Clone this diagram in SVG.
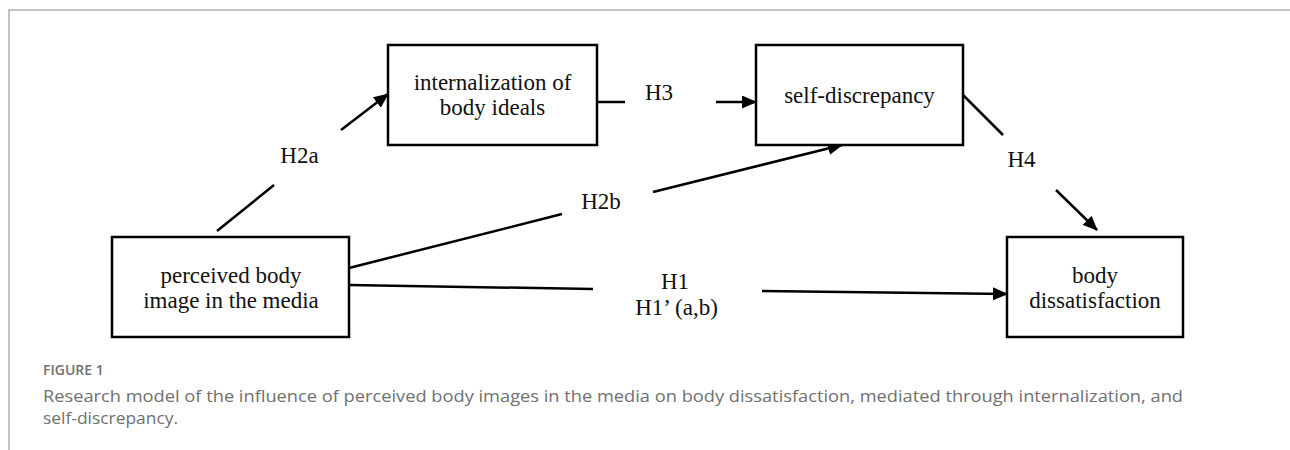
<svg xmlns="http://www.w3.org/2000/svg" width="1290" height="450" viewBox="0 0 1290 450">
<style>
.box{fill:#fff;stroke:#000;stroke-width:2.5}
.lbl{font-family:"Liberation Serif","Times New Roman",serif;font-size:23px;fill:#111;text-anchor:middle}
.edge{stroke:#000;stroke-width:2.5;fill:none}
.frame{stroke:#b0b0b0;stroke-width:1.5;fill:none}
.cap{font-family:"Open Sans","Noto Sans",sans-serif;fill:#707070}
</style>
<defs>
<marker id="ah" markerUnits="userSpaceOnUse" markerWidth="15" markerHeight="13" refX="14" refY="6.5" orient="auto">
<path d="M0,0 L15,6.5 L0,13 Z" fill="#000"/>
</marker>
</defs>
<rect width="1290" height="450" fill="#fff"/>
<path class="frame" d="M9,450 L9,10 L1290,10"/>

<g id="connectors">
<line class="edge" x1="217" y1="231" x2="274" y2="185"/>
<line class="edge" x1="341" y1="130" x2="388" y2="94" marker-end="url(#ah)"/>
<line class="edge" x1="349" y1="268" x2="562" y2="214"/>
<line class="edge" x1="653" y1="192" x2="842" y2="145" marker-end="url(#ah)"/>
<line class="edge" x1="597" y1="102" x2="625" y2="102"/>
<line class="edge" x1="716" y1="102" x2="756" y2="102" marker-end="url(#ah)"/>
<line class="edge" x1="963" y1="95" x2="1003" y2="135"/>
<line class="edge" x1="1056" y1="190" x2="1097" y2="230" marker-end="url(#ah)"/>
<line class="edge" x1="349" y1="285" x2="593" y2="289"/>
<line class="edge" x1="762" y1="291" x2="1007" y2="294" marker-end="url(#ah)"/>
<text class="lbl" x="299.5" y="163">H2a</text>
<text class="lbl" x="601" y="209">H2b</text>
<text class="lbl" x="659" y="100">H3</text>
<text class="lbl" x="1021.5" y="167">H4</text>
<text class="lbl" x="675" y="289">H1</text>
<text class="lbl" x="676.5" y="315">H1’ (a,b)</text>
</g>

<g id="node-internalization">
<rect class="box" x="388" y="45" width="209" height="100"/>
<text class="lbl" x="492.5" y="90">internalization of</text>
<text class="lbl" x="492.5" y="115">body ideals</text>
</g>
<g id="node-selfdiscrepancy">
<rect class="box" x="756" y="45" width="207" height="100"/>
<text class="lbl" x="859.5" y="103">self-discrepancy</text>
</g>
<g id="node-perceived">
<rect class="box" x="112" y="237" width="237" height="100"/>
<text class="lbl" x="231" y="283">perceived body</text>
<text class="lbl" x="231" y="308">image in the media</text>
</g>
<g id="node-dissatisfaction">
<rect class="box" x="1007" y="237" width="176" height="100"/>
<text class="lbl" x="1095" y="283">body</text>
<text class="lbl" x="1095" y="308">dissatisfaction</text>
</g>

<g id="caption">
<text class="cap" x="43" y="375" font-size="14" font-weight="600" fill="#666">FIGURE 1</text>
<text class="cap" x="43" y="402" font-size="17" textLength="1140" lengthAdjust="spacingAndGlyphs">Research model of the influence of perceived body images in the media on body dissatisfaction, mediated through internalization, and</text>
<text class="cap" x="43" y="424" font-size="17" textLength="135" lengthAdjust="spacingAndGlyphs">self-discrepancy.</text>
</g>
</svg>
